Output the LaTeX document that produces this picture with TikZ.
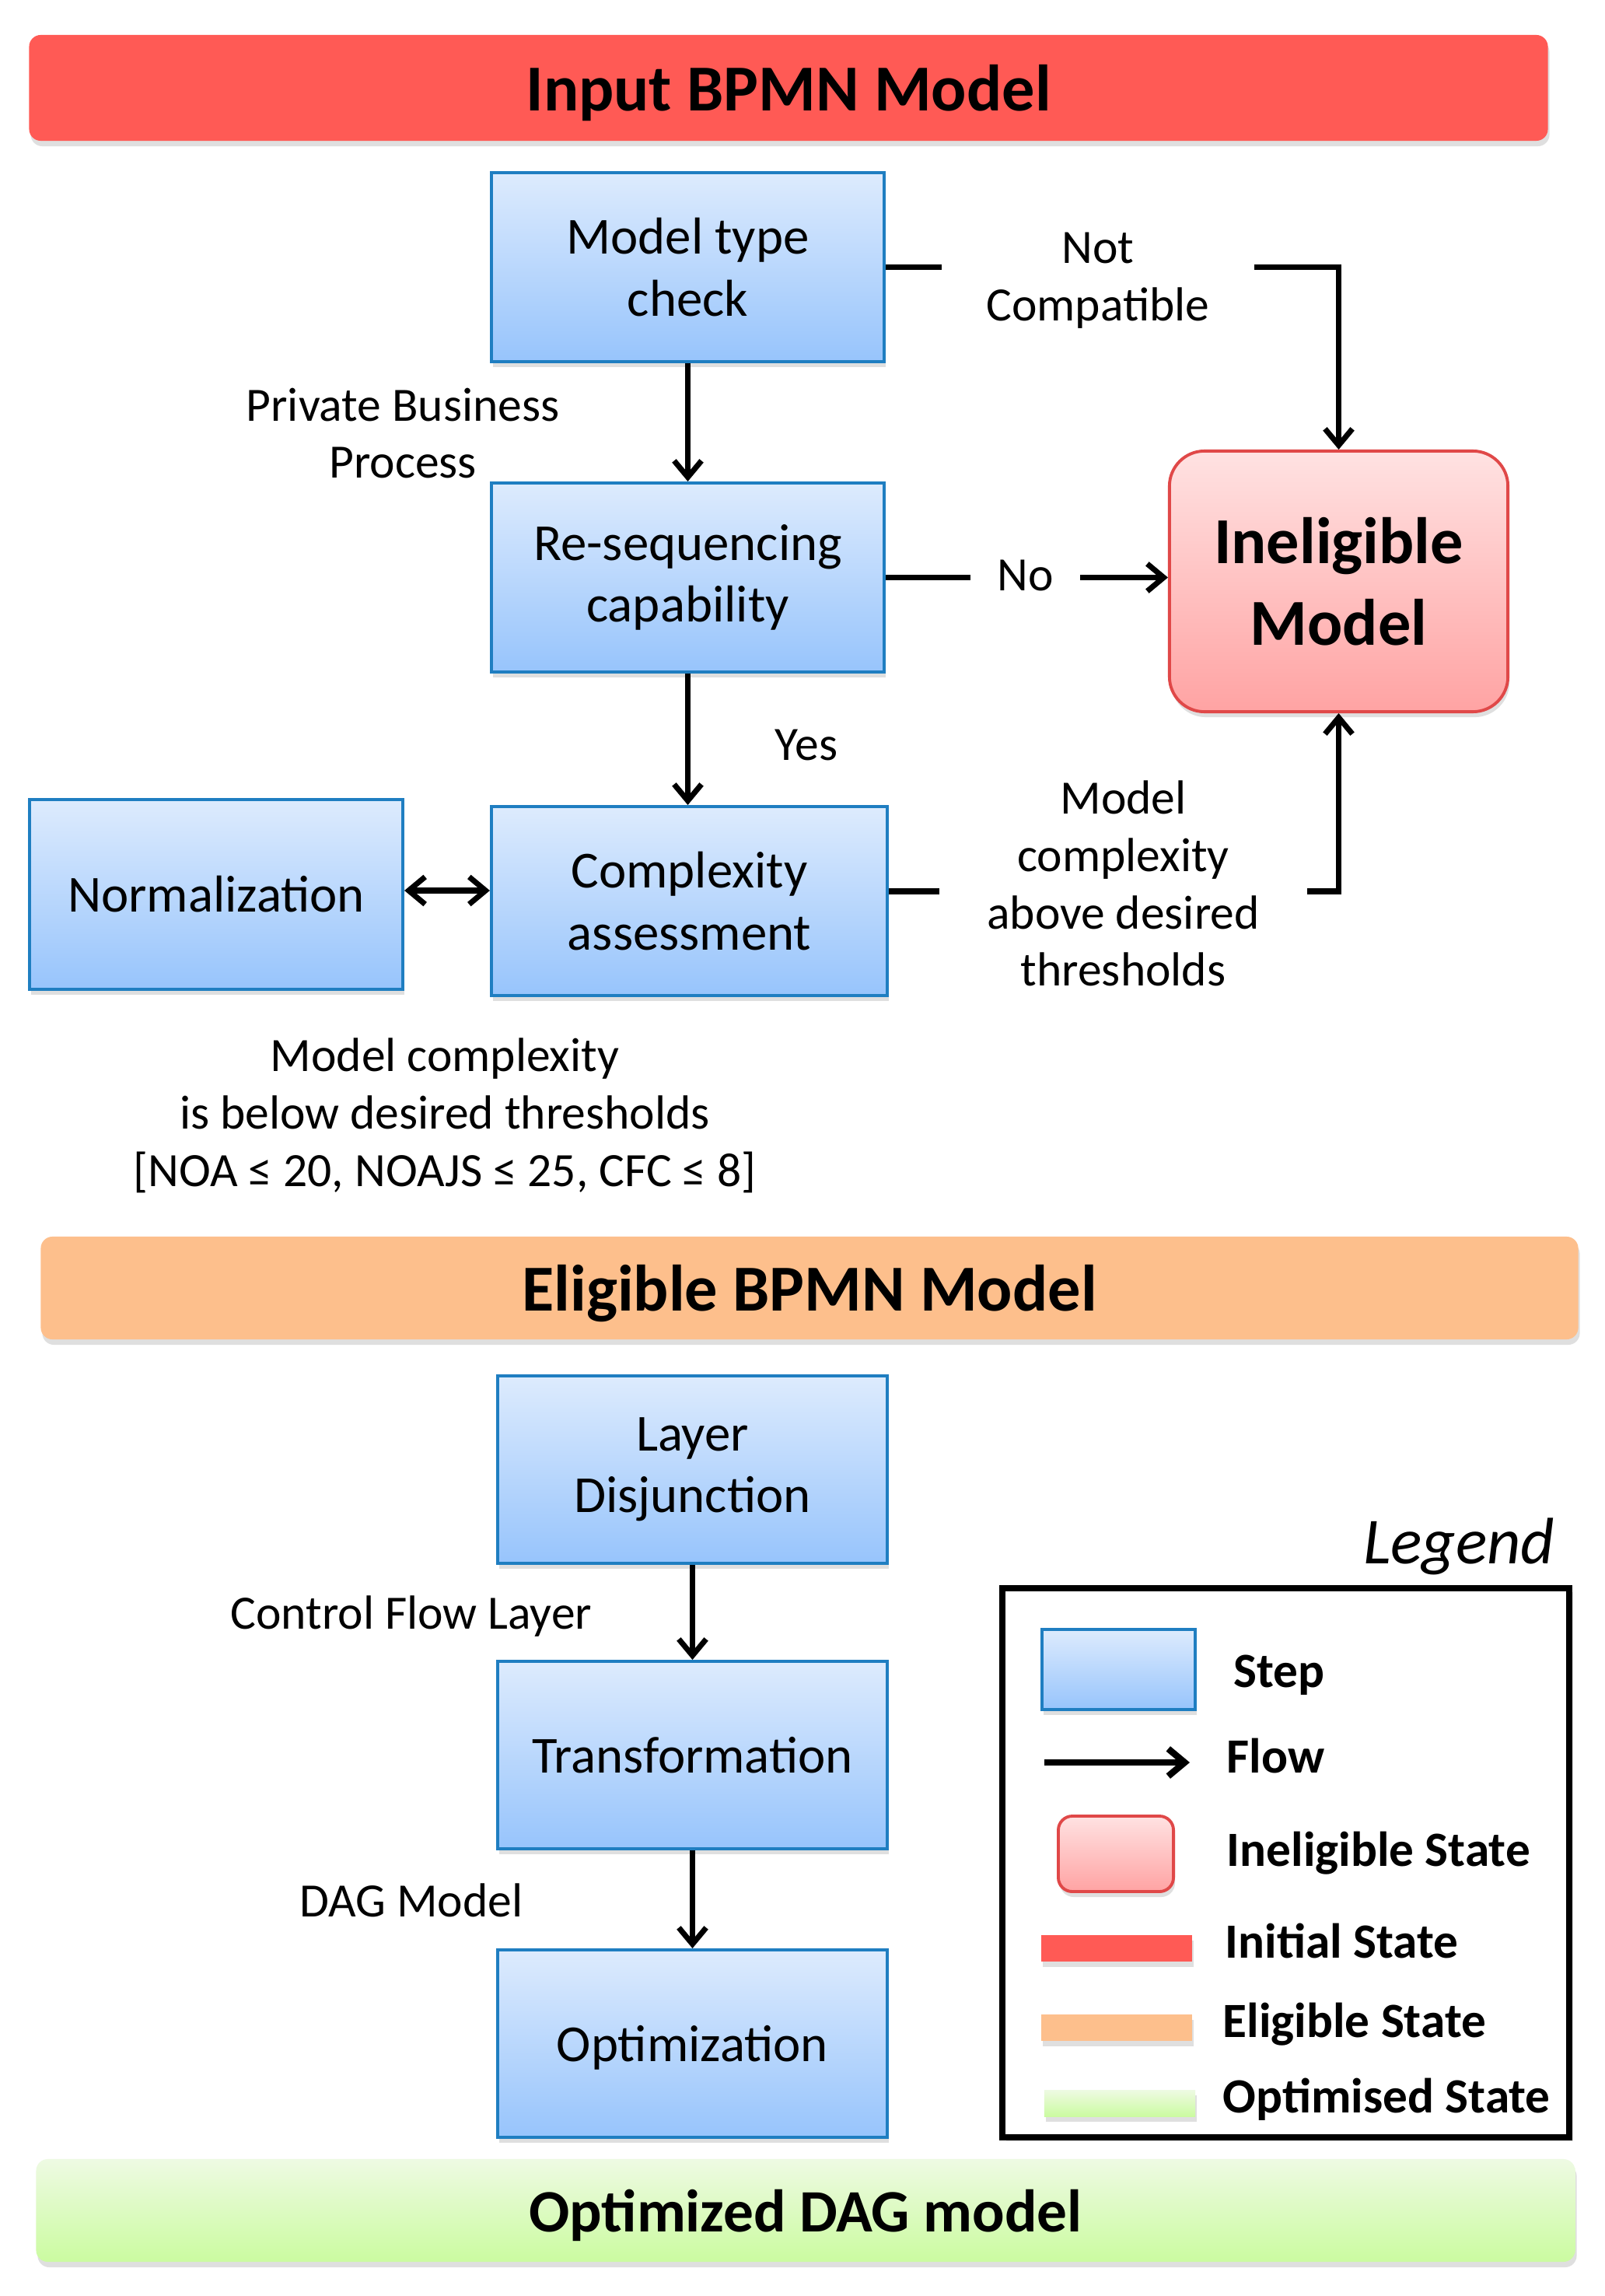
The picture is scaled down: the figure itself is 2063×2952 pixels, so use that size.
\documentclass[tikz,border=0pt]{standalone}
\usepackage{fontspec}
\setmainfont{Carlito}
\usetikzlibrary{arrows.meta,shadows}
\definecolor{stepTop}{HTML}{DDEBFD}
\definecolor{stepBot}{HTML}{97C4FC}
\definecolor{stepLine}{HTML}{1F7EC1}
\definecolor{inTop}{HTML}{FFE2E2}
\definecolor{inBot}{HTML}{FFA3A3}
\definecolor{inLine}{HTML}{E04848}
\definecolor{initRed}{HTML}{FF5A55}
\definecolor{eligOr}{HTML}{FDBF8C}
\definecolor{optTop}{HTML}{EEFAE3}
\definecolor{optBot}{HTML}{CBFBA0}
\tikzset{
  shadowed/.style={drop shadow={shadow xshift=0.02cm, shadow yshift=-0.07cm, opacity=0.25}},
  stepbox/.style={draw=stepLine, line width=1.1pt, top color=stepTop, bottom color=stepBot,
    minimum width=5.05cm, minimum height=2.43cm, align=center, inner sep=0pt,
    font=\fontsize{19}{22.5}\selectfont, shadowed},
  inelbox/.style={draw=inLine, line width=1.1pt, top color=inTop, bottom color=inBot,
    rounded corners=0.45cm, minimum width=4.35cm, minimum height=3.35cm, align=center,
    inner sep=0pt, font=\fontsize{24}{30}\selectfont\bfseries, shadowed},
  banner/.style={rounded corners=0.15cm, draw=none, inner sep=0pt, text depth=0pt,
    font=\fontsize{24}{28}\selectfont\bfseries, shadowed},
  lab/.style={font=\fontsize{17.5}{21}\selectfont, align=center, inner sep=0pt},
  flow/.style={line width=2pt, -{Straight Barb[length=6pt,width=10pt]}},
  legtxt/.style={anchor=base west, font=\fontsize{18}{21}\selectfont\bfseries, inner sep=0pt},
  legbar/.style={minimum width=1.94cm, minimum height=0.34cm, inner sep=0pt, draw=none, shadowed},
}
\begin{document}
\begin{tikzpicture}[x=0.01cm,y=-0.01cm]
\useasboundingbox[fill=white] (0,0) rectangle (2063,2952);
% banners
\node[banner, fill=initRed, minimum width=19.52cm, minimum height=1.36cm] (b1) at (1014,113) {Input BPMN Model};
\node[banner, fill=eligOr, minimum width=19.76cm, minimum height=1.32cm] (b2) at (1041,1656) {Eligible BPMN Model};
\node[banner, top color=optTop, bottom color=optBot, minimum width=19.78cm, minimum height=1.32cm,
  font=\fontsize{22}{26}\selectfont\bfseries] (b3) at (1036,2842) {Optimized DAG model};
% steps
\node[stepbox] (mtc) at (884.5,343.5) {Model type\\check};
\node[stepbox] (rsc) at (884.5,742.5) {Re-sequencing\\capability};
\node[stepbox, minimum width=5.09cm] (cpa) at (886.5,1158.5) {Complexity\\assessment};
\node[stepbox, minimum width=4.80cm, minimum height=2.44cm] (nrm) at (278,1150) {Normalization};
\node[inelbox] (inel) at (1721.5,747.5) {Ineligible\\Model};
\node[stepbox, minimum width=5.01cm, minimum height=2.41cm] (ld) at (890.5,1889.5) {Layer\\Disjunction};
\node[stepbox, minimum width=5.01cm, minimum height=2.41cm] (tr) at (890.5,2256.5) {Transformation};
\node[stepbox, minimum width=5.01cm, minimum height=2.41cm, text depth=0pt] (opt) at (890.5,2627.5) {Optimization};
% connectors
\draw[flow] (mtc.south) -- (rsc.north);
\draw[flow] (rsc.south) -- (rsc.south |- cpa.north);
\draw[flow] (mtc.east) -| (inel.north);
\draw[flow] (rsc.east) -- (rsc.east -| inel.west);
\draw[flow] ([yshift=0.125cm]cpa.east) -| (inel.south);
\draw[line width=2pt, {Straight Barb[length=6pt,width=10pt]}-{Straight Barb[length=6pt,width=10pt]}]
  ([yshift=0.05cm]nrm.east) -- ([yshift=0.05cm]nrm.east -| cpa.west);
\draw[flow] (ld.south) -- (tr.north);
\draw[flow] (tr.south) -- (opt.north);
% labels
\node[lab, fill=white, minimum width=4.01cm] (lnc) at (1412,361) {Not\\Compatible};
\node[lab, fill=white, minimum width=1.41cm] (lno) at (1318.5,740) {No};
\node[lab, fill=white, minimum width=4.73cm] (lmc) at (1444.5,1136) {Model\\complexity\\above desired\\thresholds};
\node[lab] (lpb) at (518,557) {Private Business\\Process};
\node[lab] (lyes) at (1037,958) {Yes};
\node[lab] (lthr) at (572,1434) {Model complexity\\is below desired thresholds\\{[}NOA ≤ 20, NOAJS ≤ 25, CFC ≤ 8{]}};
\node[lab] (lcf) at (529,2078) {Control Flow Layer};
\node[lab] (ldag) at (529,2443) {DAG Model};
% legend
\node[draw, line width=2.3pt, minimum width=7.29cm, minimum height=7.06cm, inner sep=0pt, fill=white,
  drop shadow={shadow xshift=0.05cm, shadow yshift=-0.05cm, opacity=0.2}] (leg) at (1653.5,2395) {};
\node[font=\fontsize{24}{28}\selectfont\itshape, anchor=base east, inner sep=0pt] (legt) at (2000,2010) {Legend};
\node[stepbox, minimum width=1.97cm, minimum height=1.03cm] (ls) at (1438.5,2146.5) {};
\node[legtxt] (lst) at (1586,2169) {Step};
\coordinate (lfa) at (1343,2266);
\coordinate (lfb) at (1530,2266);
\draw[line width=2.4pt, -{Straight Barb[length=6pt,width=10pt]}] (lfa) -- (lfb);
\node[legtxt] (lft) at (1577,2279) {Flow};
\node[inelbox, rounded corners=0.18cm, minimum width=1.48cm, minimum height=0.97cm] (li) at (1435,2383.5) {};
\node[legtxt] (lit) at (1577,2399) {Ineligible State};
\node[legbar, fill=initRed] (lb1) at (1436,2505) {};
\node[legtxt] (lb1t) at (1575,2517) {Initial State};
\node[legbar, fill=eligOr] (lb2) at (1436,2607) {};
\node[legtxt] (lb2t) at (1572,2619) {Eligible State};
\node[legbar, top color=optTop, bottom color=optBot] (lb3) at (1440,2704) {};
\node[legtxt] (lb3t) at (1572,2716) {Optimised State};
\end{tikzpicture}
\end{document}
